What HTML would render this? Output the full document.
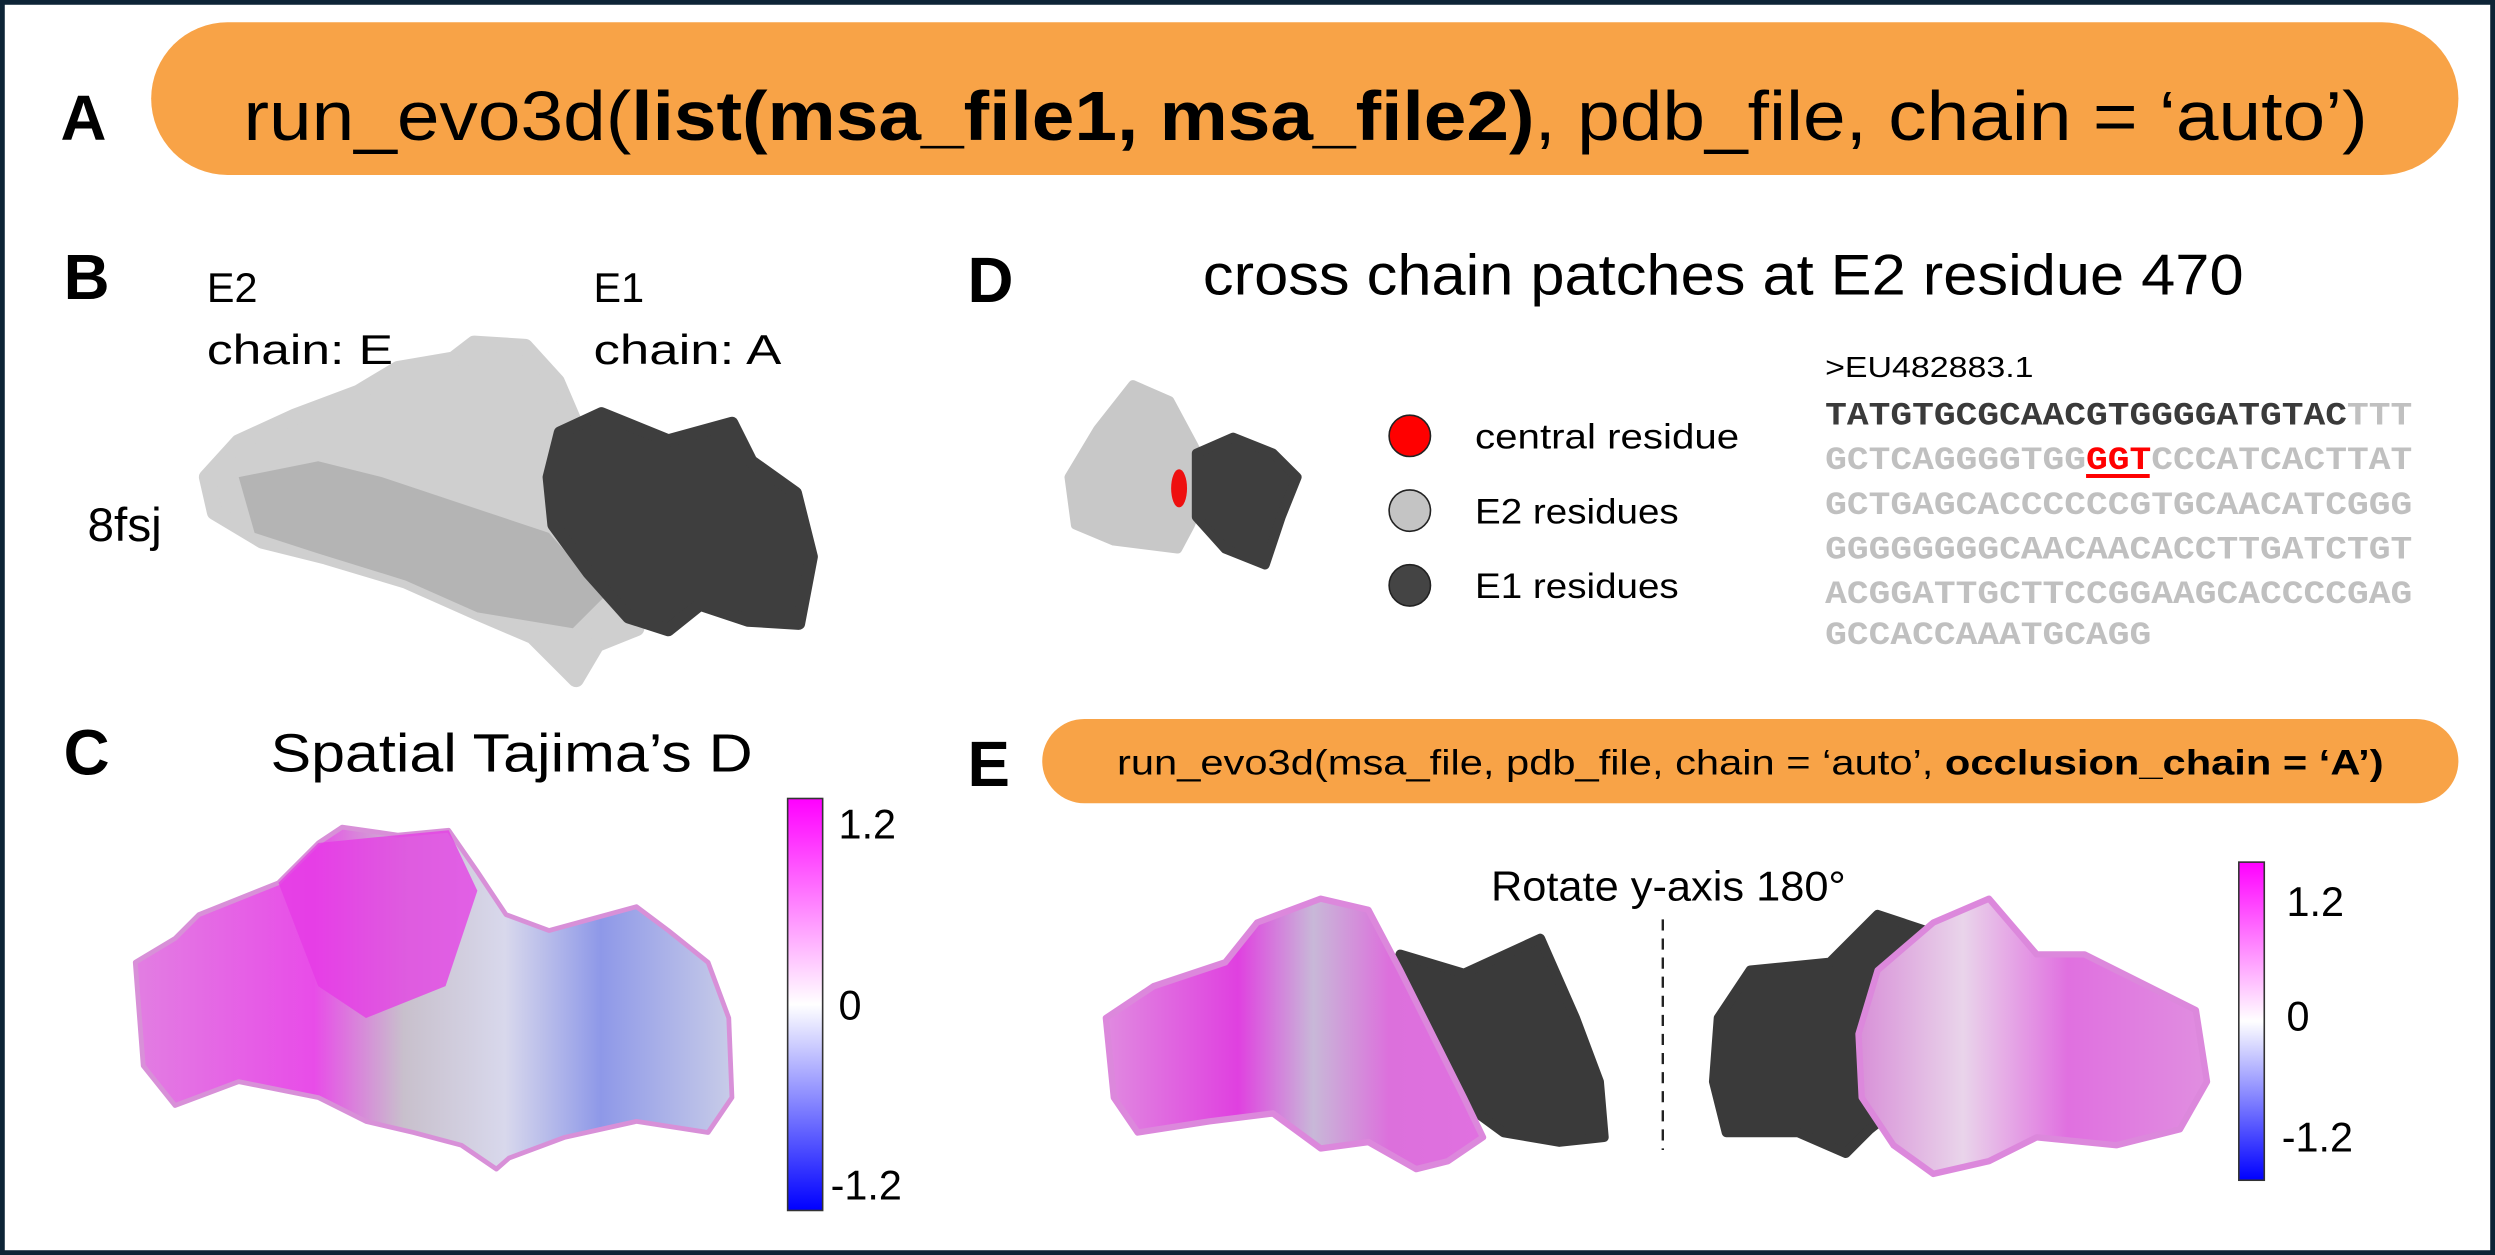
<!DOCTYPE html>
<html><head><meta charset="utf-8"><style>
html,body{margin:0;padding:0;background:#fff;}
svg{display:block;}
text{font-family:"Liberation Sans",sans-serif;}
.mono{font-family:"Liberation Mono",monospace;font-weight:bold;}
</style></head><body>
<svg width="2495" height="1255" viewBox="0 0 1568 789" preserveAspectRatio="none" xmlns="http://www.w3.org/2000/svg" fill="#000">
<defs>
<linearGradient id="cb" x1="0" y1="0" x2="0" y2="1">
<stop offset="0" stop-color="#ff00ff"/><stop offset="0.5" stop-color="#ffffff"/><stop offset="1" stop-color="#0000ff"/>
</linearGradient>
<linearGradient id="gC" x1="0" y1="0" x2="1" y2="0">
<stop offset="0" stop-color="#e27ee2"/><stop offset="0.3" stop-color="#e84ce8"/><stop offset="0.45" stop-color="#c8c0cc"/><stop offset="0.62" stop-color="#d8d8ec"/><stop offset="0.78" stop-color="#8e98e8"/><stop offset="1" stop-color="#c8cce8"/>
</linearGradient>
<linearGradient id="gEL" x1="0" y1="0" x2="1" y2="0">
<stop offset="0" stop-color="#e08ae0"/><stop offset="0.35" stop-color="#e040e0"/><stop offset="0.55" stop-color="#c8b8d8"/><stop offset="0.75" stop-color="#dc70dc"/><stop offset="1" stop-color="#e070e0"/>
</linearGradient>
<linearGradient id="gER" x1="0" y1="0" x2="1" y2="0">
<stop offset="0" stop-color="#d890d8"/><stop offset="0.3" stop-color="#e9d4ea"/><stop offset="0.6" stop-color="#e070e0"/><stop offset="1" stop-color="#e08ee0"/>
</linearGradient>
</defs>
<rect x="0" y="0" width="1568" height="789" fill="#fff" stroke="#0d2436" stroke-width="6"/>

<!-- A -->
<text x="38" y="88" font-size="40" font-weight="bold">A</text>
<rect x="95" y="14" width="1450" height="96" rx="48" fill="#f8a347"/>
<text x="153" y="88" font-size="44" textLength="1335" lengthAdjust="spacingAndGlyphs">run_evo3d(<tspan font-weight="bold">list(msa_file1, msa_file2)</tspan>, pdb_file, chain = ‘auto’)</text>

<!-- B -->
<g stroke-linejoin="round">
<path d="M130,300 L150,278 L185,262 L225,247 L250,232 L285,226 L298,216 L330,218 L350,240 L362,268 L352,300 L345,335 L380,370 L400,395 L375,405 L362,427 L335,400 L300,385 L255,365 L205,350 L165,340 L135,322 Z" fill="#cfcfcf" stroke="#cfcfcf" stroke-width="10"/>
<path d="M150,300 L200,290 L240,300 L300,320 L345,335 L380,375 L360,395 L300,385 L255,365 L200,348 L160,335 Z" fill="#b4b4b4"/>
<path d="M352,272 L378,260 L420,277 L460,266 L472,290 L500,310 L510,350 L502,392 L470,390 L440,380 L420,396 L395,388 L370,360 L348,330 L345,300 Z" fill="#3e3e3e" stroke="#3e3e3e" stroke-width="8"/>
</g>
<text x="40" y="188" font-size="40" font-weight="bold">B</text>
<text x="130" y="190" font-size="26">E2</text>
<text x="130" y="229" font-size="26" textLength="117" lengthAdjust="spacingAndGlyphs">chain: E</text>
<text x="373" y="190" font-size="26">E1</text>
<text x="373" y="229" font-size="26" textLength="118" lengthAdjust="spacingAndGlyphs">chain: A</text>
<text x="55" y="340" font-size="30">8fsj</text>

<!-- D -->
<text x="608" y="190" font-size="40" font-weight="bold">D</text>
<text x="756" y="185" font-size="36" textLength="654" lengthAdjust="spacingAndGlyphs">cross chain patches at E2 residue 470</text>
<path d="M672,300 L690,270 L712,242 L735,252 L750,280 L760,300 L748,330 L740,345 L700,340 L676,330 Z" fill="#c8c8c8" stroke="#c8c8c8" stroke-width="6" stroke-linejoin="round"/>
<path d="M752,285 L775,275 L800,285 L815,300 L805,325 L795,355 L770,345 L752,325 Z" fill="#3e3e3e" stroke="#3e3e3e" stroke-width="6" stroke-linejoin="round"/>
<ellipse cx="741" cy="307" rx="5" ry="12" fill="#ee1010"/>
<circle cx="886" cy="274" r="13" fill="#ff0000" stroke="#222" stroke-width="1"/>
<circle cx="886" cy="321" r="13" fill="#c4c4c4" stroke="#222" stroke-width="1"/>
<circle cx="886" cy="368" r="13" fill="#444" stroke="#222" stroke-width="1"/>
<text x="927" y="282" font-size="22" textLength="166" lengthAdjust="spacingAndGlyphs">central residue</text>
<text x="927" y="329" font-size="22" textLength="128" lengthAdjust="spacingAndGlyphs">E2 residues</text>
<text x="927" y="376" font-size="22" textLength="128" lengthAdjust="spacingAndGlyphs">E1 residues</text>
<text x="1147" y="237" font-size="18" textLength="131" lengthAdjust="spacingAndGlyphs">&gt;EU482883.1</text>
<text class="mono" x="1147" y="267" font-size="20.5" textLength="369" lengthAdjust="spacingAndGlyphs" fill="#3a3a3a"><tspan fill="#3a3a3a">TATGTGCGCAACGTGGGGATGTAC</tspan><tspan fill="#c0c0c0">TTT</tspan></text>
<text class="mono" x="1147" y="295" font-size="20.5" textLength="369" lengthAdjust="spacingAndGlyphs" fill="#c0c0c0"><tspan fill="#c0c0c0">GCTCAGGGGTGG</tspan><tspan fill="#ff0000">GGT</tspan><tspan fill="#c0c0c0">CCCATCACTTAT</tspan></text>
<rect x="1311" y="298" width="40" height="2.5" fill="#ff0000"/>
<text class="mono" x="1147" y="323" font-size="20.5" textLength="369" lengthAdjust="spacingAndGlyphs" fill="#c0c0c0">GCTGAGCACCCCCCGTGCAACATCGGG</text>
<text class="mono" x="1147" y="351" font-size="20.5" textLength="369" lengthAdjust="spacingAndGlyphs" fill="#c0c0c0">GGGGGGGGCAACAACACCTTGATCTGT</text>
<text class="mono" x="1147" y="379" font-size="20.5" textLength="369" lengthAdjust="spacingAndGlyphs" fill="#c0c0c0">ACGGATTGCTTCCGGAAGCACCCCGAG</text>
<text class="mono" x="1147" y="405" font-size="20.5" textLength="205" lengthAdjust="spacingAndGlyphs" fill="#c0c0c0">GCCACCAAATGCAGG</text>

<!-- C -->
<text x="40" y="487" font-size="40" font-weight="bold">C</text>
<text x="170" y="485" font-size="34" textLength="303" lengthAdjust="spacingAndGlyphs">Spatial Tajima’s D</text>
<path d="M85,605 L110,590 L125,575 L175,555 L200,530 L215,520 L250,525 L282,522 L300,548 L318,575 L345,585 L400,570 L420,585 L445,605 L458,640 L460,690 L445,712 L400,705 L355,715 L320,728 L312,735 L290,720 L260,712 L230,705 L200,690 L150,680 L110,695 L90,670 Z" fill="url(#gC)" stroke="#d890d8" stroke-width="3" stroke-linejoin="round"/>
<path d="M175,555 L200,530 L250,525 L282,522 L300,560 L280,620 L230,640 L200,620 Z" fill="#e53ae5" opacity="0.75"/>
<rect x="495" y="502" width="22" height="259" fill="url(#cb)" stroke="#333" stroke-width="1"/>
<text x="527" y="527" font-size="26">1.2</text>
<text x="527" y="641" font-size="26">0</text>
<text x="522" y="754" font-size="26">-1.2</text>

<!-- E -->
<text x="608" y="494" font-size="40" font-weight="bold">E</text>
<rect x="655" y="452" width="890" height="53" rx="26.5" fill="#f8a347"/>
<text x="702" y="487" font-size="22" textLength="796" lengthAdjust="spacingAndGlyphs">run_evo3d(msa_file, pdb_file, chain = ‘auto’, <tspan font-weight="bold">occlusion_chain = ‘A’)</tspan></text>
<text x="937" y="566" font-size="26" textLength="223" lengthAdjust="spacingAndGlyphs">Rotate y-axis 180°</text>
<line x1="1045" y1="578" x2="1045" y2="723" stroke="#222" stroke-width="1.5" stroke-dasharray="7,5"/>
<g stroke-linejoin="round">
<path d="M880,600 L920,612 L968,590 L990,640 L1005,680 L1008,715 L980,718 L945,712 L915,690 L890,660 Z" fill="#3a3a3a" stroke="#3a3a3a" stroke-width="6"/>
<path d="M695,640 L725,620 L770,605 L790,580 L830,565 L860,572 L880,610 L900,650 L920,690 L932,715 L910,730 L890,735 L860,718 L830,722 L800,700 L760,705 L715,712 L700,690 Z" fill="url(#gEL)" stroke="#dc88dc" stroke-width="4"/>
<path d="M1080,640 L1100,610 L1150,605 L1180,575 L1210,585 L1215,640 L1200,690 L1175,710 L1160,725 L1130,712 L1085,712 L1077,680 Z" fill="#3a3a3a" stroke="#3a3a3a" stroke-width="6"/>
<path d="M1180,610 L1215,580 L1250,565 L1280,600 L1310,600 L1350,620 L1380,635 L1387,680 L1370,710 L1330,720 L1280,715 L1250,730 L1215,738 L1190,720 L1170,690 L1168,650 Z" fill="url(#gER)" stroke="#dc88dc" stroke-width="4"/>
</g>
<rect x="1407" y="542" width="16" height="200" fill="url(#cb)" stroke="#333" stroke-width="1"/>
<text x="1437" y="576" font-size="26">1.2</text>
<text x="1437" y="648" font-size="26">0</text>
<text x="1434" y="724" font-size="26">-1.2</text>
</svg>
</body></html>
